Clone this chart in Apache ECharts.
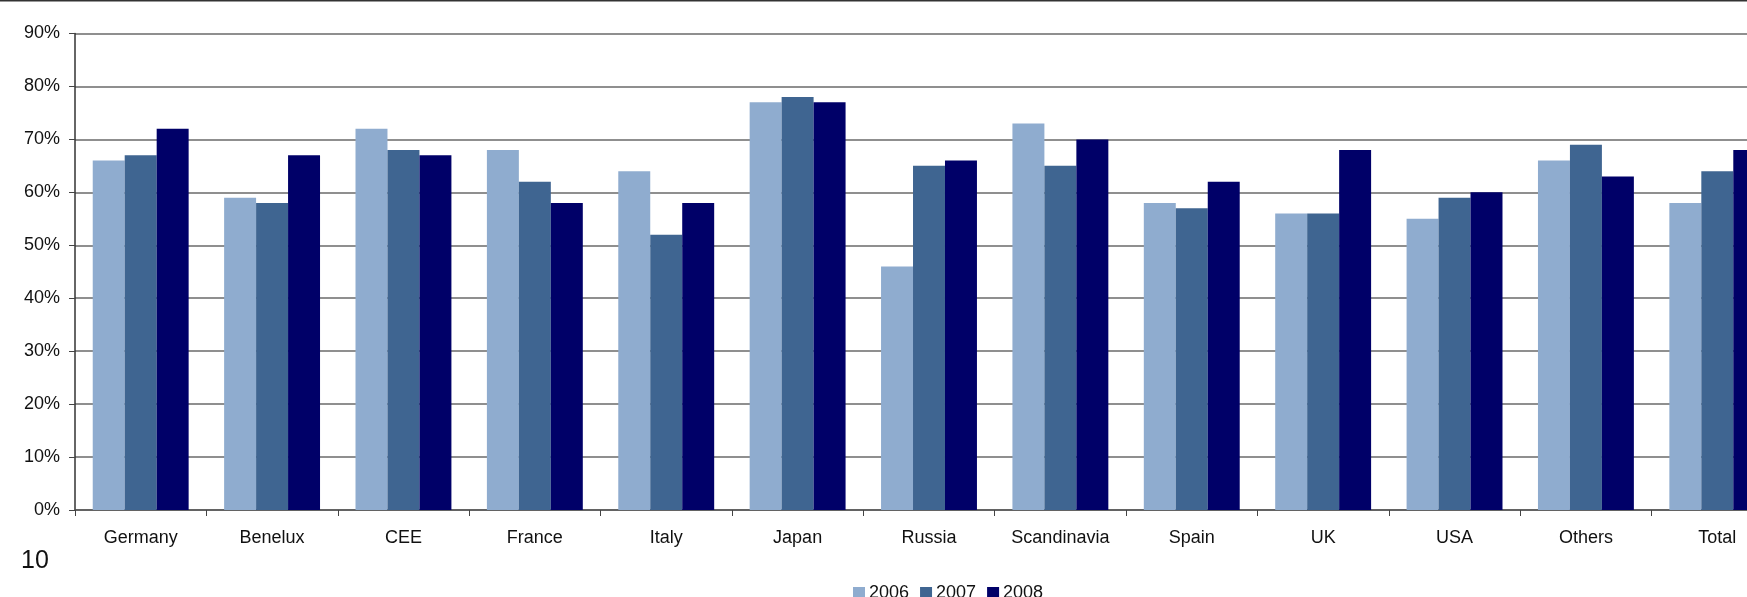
<!DOCTYPE html>
<html>
<head>
<meta charset="utf-8">
<title>Capacity utilisation by region</title>
<script src="https://cdn.jsdelivr.net/npm/echarts@6/dist/echarts.min.js"></script>
<style>
  html, body { margin: 0; padding: 0; background: #ffffff; }
  #chart { width: 1747px; height: 597px; }
</style>
</head>
<body>
<div id="chart"></div>
<script>
// Regions along the category axis
const regions = ['Germany', 'Benelux', 'CEE', 'France', 'Italy', 'Japan', 'Russia',
                 'Scandinavia', 'Spain', 'UK', 'USA', 'Others', 'Total'];

// Utilisation per region, in percent
const values2006 = [66, 59, 72, 68, 64, 77, 46, 73, 58, 56, 55, 66, 58];
const values2007 = [67, 58, 68, 62, 52, 78, 65, 65, 57, 56, 59, 69, 64];
const values2008 = [72, 67, 67, 58, 58, 77, 66, 70, 62, 68, 60, 63, 68];

const yearNames = ['2006', '2007', '2008'];
const yearColors = ['#8FACCF', '#3F6591', '#000068'];

// Value axis ticks: 0% .. 90% every 10
const yMin = 0;
const yMax = 90;
const yStep = 10;

const FONT = '"Liberation Sans", Arial, Helvetica, sans-serif';

const chart = echarts.init(document.getElementById('chart'), null, { renderer: 'canvas' });

const yearValues = [values2006, values2007, values2008];

chart.setOption({
  backgroundColor: '#ffffff',
  animation: false,
  textStyle: { fontFamily: FONT },
  legend: {
    data: yearNames,
    left: 848,
    top: 579,
    itemWidth: 12,
    itemHeight: 12,
    itemGap: 11,
    icon: 'rect',
    textStyle: { fontSize: 18, color: '#111', fontFamily: FONT, padding: [0, 0, 0, -1] }
  },
  grid: {
    left: 75,
    top: 33.5,
    width: 1708,
    height: 476.5,
    containLabel: false,
    // the plot runs on past the right edge of the page
    outerBoundsMode: 'none'
  },
  xAxis: {
    type: 'category',
    data: regions,
    boundaryGap: true,
    axisLine: { show: true, lineStyle: { color: '#555', width: 1.5 } },
    axisTick: { show: true, length: 6, lineStyle: { color: '#444', width: 1 } },
    axisLabel: { fontSize: 18, color: '#111', margin: 19, fontFamily: FONT, interval: 0 },
    splitLine: { show: false }
  },
  yAxis: {
    type: 'value',
    min: yMin,
    max: yMax,
    interval: yStep,
    axisLine: { show: true, lineStyle: { color: '#333', width: 1.5 } },
    axisTick: { show: true, length: 6, lineStyle: { color: '#444', width: 1 } },
    axisLabel: {
      fontSize: 18,
      color: '#111',
      margin: 15,
      fontFamily: FONT,
      formatter: function (v) { return v + '%'; }
    },
    splitLine: { show: true, lineStyle: { color: '#6a6a6a', width: 1.5 } }
  },
  series: yearNames.map(function (name, i) {
    return {
      name: name,
      type: 'bar',
      data: yearValues[i],
      barGap: '0%',
      barCategoryGap: '27%',
      itemStyle: { color: yearColors[i] },
      z: 3
    };
  }),
  graphic: [
    {
      type: 'rect',
      left: 0,
      top: 0,
      shape: { width: 1747, height: 1.5 },
      style: { fill: '#333333' },
      silent: true
    },
    {
      type: 'text',
      left: 21,
      top: 549,
      style: { text: '10', fontSize: 25, fill: '#111', fontFamily: FONT },
      silent: true
    }
  ]
});
</script>
</body>
</html>
